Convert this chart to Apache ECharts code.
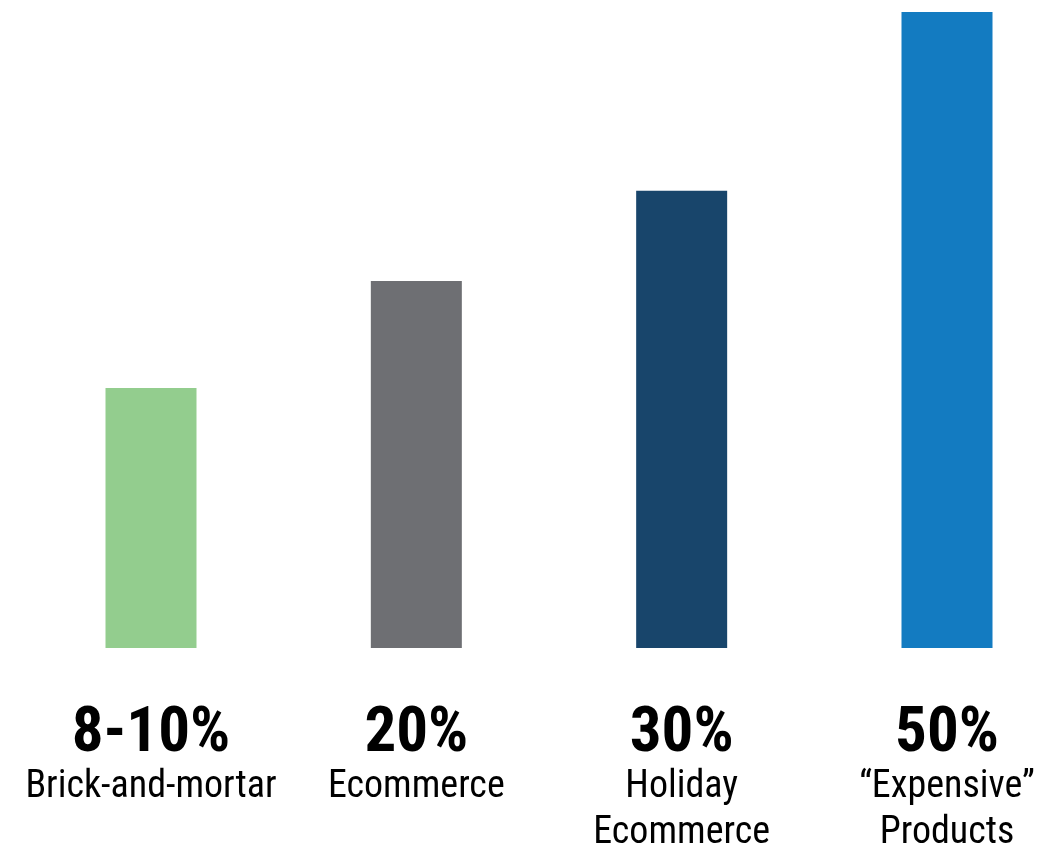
<!DOCTYPE html>
<html><head><meta charset="utf-8">
<script src="https://cdn.jsdelivr.net/npm/echarts@6/dist/echarts.min.js"></script>
<style>html,body{margin:0;padding:0;background:#fff}#c{width:1037px;height:850px}</style>
</head><body><div id="c"></div>
<script>
const percents = ['8-10%', '20%', '30%', '50%'];
const names = ['Brick-and-mortar', 'Ecommerce', 'Holiday\nEcommerce', '\u201cExpensive\u201d\nProducts'];
const heights = [40.9, 57.7, 71.9, 100];
const colors = ['#93CD8E', '#6E6F73', '#18456B', '#137BC1'];

const chart = echarts.init(document.getElementById('c'));
const font = "'Roboto Condensed', Roboto, sans-serif";
chart.setOption({
  animation: false,
  grid: { left: 151, right: 90, top: 12, bottom: 202, containLabel: false, outerBoundsMode: 'none' },
  xAxis: {
    type: 'category',
    data: percents.map((p, i) => i),
    boundaryGap: false,
    axisLine: { show: false }, axisTick: { show: false },
    axisLabel: {
      margin: 58,
      interval: 0,
      formatter: (v, i) => '{a|' + percents[i] + '}\n' + names[i].split('\n').map(s => '{b|' + s + '}').join('\n'),
      rich: {
        a: { fontFamily: font, fontSize: 63, fontWeight: 'bold', color: '#000', lineHeight: 58, align: 'center' },
        b: { fontFamily: font, fontSize: 38, color: '#000', lineHeight: 46, align: 'center' }
      }
    }
  },
  yAxis: { type: 'value', min: 0, max: 100, show: false, splitLine: { show: false } },
  series: [{
    type: 'bar',
    barWidth: 91,
    data: heights.map((h, i) => ({ value: h, itemStyle: { color: colors[i] } }))
  }]
});
</script></body></html>
